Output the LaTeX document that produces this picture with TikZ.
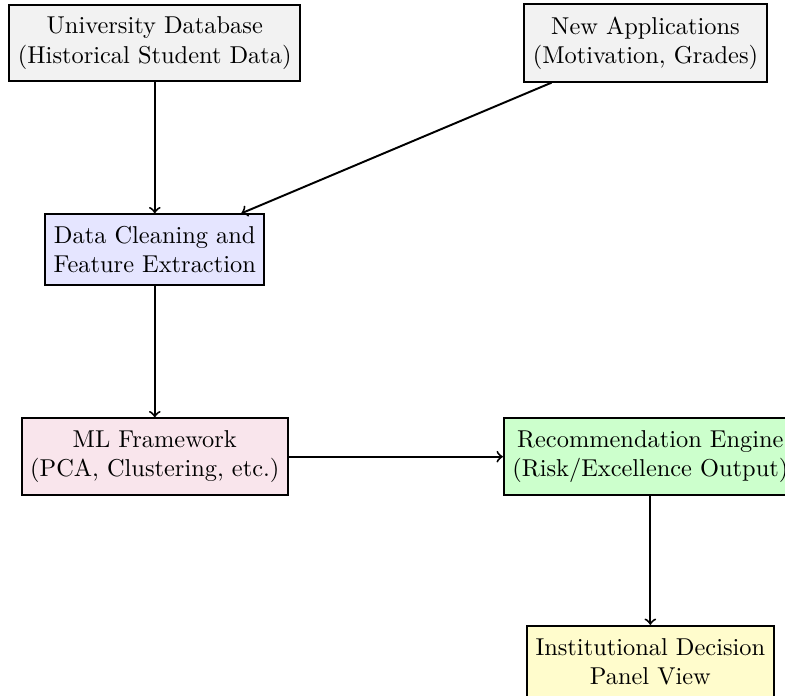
\documentclass[tikz,border=0pt]{standalone}
\usepackage{tikz}

\begin{document}
\begin{tikzpicture}
            [node distance={2.98cm},thick, main/.style = {draw,rectangle,align=center, inner xsep=3.5pt, inner ysep=5pt}] 
            \useasboundingbox (0,0) rectangle (11.31,-10.02);
            \node[main,fill=gray!10] (UniversityDatabase) at (2.23,-0.62) {University Database\\(Historical Student Data)};
            \node[main,fill=gray!10] (NewApplications) [right of=UniversityDatabase, node distance=7.07cm] {New Applications\\(Motivation, Grades)};
            \node[main,fill=blue!10] (DataCleaning) [below of=UniversityDatabase] {Data Cleaning and\\Feature Extraction};
            \node[main,fill=purple!10] (MLFramework) [below of=DataCleaning] {ML Framework\\(PCA, Clustering, etc.)};
            \node[main,fill=green!20] (RecommendationEngine) [right of=MLFramework, node distance=7.14cm] {Recommendation Engine\\(Risk/Excellence Output)};
            \node[main,fill=yellow!20] (DecisionPanel) [below of=RecommendationEngine, node distance=2.95cm] {Institutional Decision\\Panel View};
        
            \path[->] (UniversityDatabase) edge (DataCleaning);
            \path[->] (NewApplications) edge (DataCleaning);
            \path[->] (DataCleaning) edge (MLFramework);
            \path[->] (MLFramework) edge (RecommendationEngine);
            \path[->] (RecommendationEngine) edge (DecisionPanel);
        \end{tikzpicture}
\end{document}
